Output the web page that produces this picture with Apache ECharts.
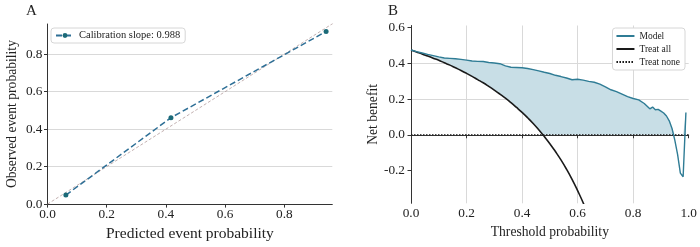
<!DOCTYPE html>
<html>
<head>
<meta charset="utf-8">
<script src="https://cdn.jsdelivr.net/npm/echarts@6/dist/echarts.min.js"></script>
<style>
  html, body { margin: 0; padding: 0; background: #fff; }
  #chart { width: 700px; height: 247px; }
</style>
</head>
<body>
<div id="chart"></div>
<script>
// Panel A - calibration plot
const calPredicted = [0.062, 0.417, 0.941];
const calObserved = [0.048, 0.461, 0.921];
const diagonal = [0, 1];

// Panel B - decision curve
const thresholds = [0.00, 0.02, 0.04, 0.06, 0.08, 0.10, 0.12, 0.14, 0.16, 0.18,
    0.20, 0.22, 0.24, 0.26, 0.28, 0.30, 0.32, 0.34, 0.36, 0.38,
    0.40, 0.42, 0.44, 0.46, 0.48, 0.50, 0.52, 0.54, 0.56, 0.58,
    0.60, 0.62, 0.64, 0.66, 0.68, 0.70, 0.72, 0.74, 0.76, 0.78,
    0.80, 0.82, 0.84, 0.86, 0.87, 0.88, 0.89, 0.90, 0.91, 0.92,
    0.93, 0.94, 0.95, 0.96, 0.97, 0.98, 0.99];
const modelBenefit = [0.475, 0.466, 0.458, 0.450, 0.443, 0.436, 0.430, 0.428, 0.426, 0.422,
    0.418, 0.413, 0.411, 0.410, 0.405, 0.402, 0.398, 0.386, 0.378, 0.377,
    0.375, 0.371, 0.365, 0.358, 0.350, 0.343, 0.333, 0.326, 0.318, 0.308,
    0.311, 0.306, 0.299, 0.294, 0.284, 0.268, 0.252, 0.242, 0.228, 0.214,
    0.203, 0.195, 0.175, 0.145, 0.155, 0.140, 0.142, 0.132, 0.122, 0.105,
    0.078, 0.035, -0.030, -0.110, -0.215, -0.235, 0.125];
const treatAllBenefit = [0.475, 0.464, 0.453, 0.441, 0.429, 0.417, 0.403, 0.390, 0.375, 0.360,
    0.344, 0.327, 0.309, 0.291, 0.271, 0.250, 0.228, 0.205, 0.180, 0.153,
    0.125, 0.095, 0.063, 0.028, -0.010, -0.050, -0.094, -0.141, -0.193, -0.250,
    -0.313, -0.381, -0.458];
const treatNoneX = [0, 1];
const treatNoneY = [0, 0];

const FONT = "Liberation Serif";
const TEXT = "#222";
const AXIS = "#333";
const GRID = "#d9d9d9";
const MODEL = "#2f7c95";

const zip = (xs, ys) => ys.map((y, i) => [xs[i], y]);
const fmt = (v) => v.toFixed(1);

// shaded area: between the model and the better of treat all / treat none
const fillBase = thresholds.map((t, i) => Math.max(treatAllBenefit[i] ?? -1, 0));
const fillUpper = thresholds.map((t, i) => Math.max(modelBenefit[i], fillBase[i]));

function renderFill(params, api) {
    const points = [];
    thresholds.forEach((t, i) => points.push(api.coord([t, fillUpper[i]])));
    for (let i = thresholds.length - 1; i >= 0; i--) {
        points.push(api.coord([thresholds[i], fillBase[i]]));
    }
    return {
        type: "polygon",
        shape: { points },
        style: { fill: "#c8dee6" },
        silent: true,
    };
}

const axisCommon = {
    axisLine: { lineStyle: { color: AXIS, width: 1 } },
    axisTick: { show: true, length: 3.5, lineStyle: { color: AXIS } },
    axisLabel: { fontFamily: FONT, fontSize: 13.3, color: TEXT, formatter: fmt },
    nameLocation: "middle",
};

const option = {
    animation: false,
    textStyle: { fontFamily: FONT },
    title: [
        { text: "A", left: 21, top: -1, textStyle: { fontFamily: FONT, fontSize: 15, fontWeight: "normal", color: TEXT } },
        { text: "B", left: 383, top: -1, textStyle: { fontFamily: FONT, fontSize: 15, fontWeight: "normal", color: TEXT } },
    ],
    grid: [
        { left: 47.5, top: 24, width: 284.8, height: 184.5 },
        { left: 411, top: 25.5, width: 278, height: 177.8 },
    ],
    legend: [
        {
            data: ["Calibration slope: 0.988"],
            left: 51, top: 28,
            itemWidth: 18, itemHeight: 6,
            padding: [2, 5, 2, 4],
            backgroundColor: "#fff",
            borderColor: "#d6d6d6", borderWidth: 1, borderRadius: 3,
            textStyle: { fontFamily: FONT, fontSize: 10.5, color: TEXT },
        },
        {
            data: ["Model", "Treat all", "Treat none"],
            orient: "vertical",
            right: 15, top: 28,
            itemWidth: 18, itemHeight: 6, itemGap: 3,
            padding: [3, 5, 3, 3],
            backgroundColor: "#fff",
            borderColor: "#d6d6d6", borderWidth: 1, borderRadius: 3,
            itemStyle: { opacity: 0 },
            textStyle: { fontFamily: FONT, fontSize: 9.5, color: TEXT },
        },
    ],
    xAxis: [
        {
            ...axisCommon, gridIndex: 0, type: "value", min: 0, max: 0.962, interval: 0.2,
            name: "Predicted event probability", nameGap: 20,
            nameTextStyle: { fontFamily: FONT, fontSize: 15.5, color: TEXT },
            axisLabel: { ...axisCommon.axisLabel, margin: 4, showMaxLabel: false },
            splitLine: { show: false },
        },
        {
            ...axisCommon, gridIndex: 1, type: "value", min: 0, max: 1, interval: 0.2,
            name: "Threshold probability", nameGap: 20,
            nameTextStyle: { fontFamily: FONT, fontSize: 13.6, color: TEXT },
            axisLabel: { ...axisCommon.axisLabel, margin: 4 },
            splitLine: { show: true, showMinLine: false, showMaxLine: false, lineStyle: { color: GRID } },
        },
    ],
    yAxis: [
        {
            ...axisCommon, gridIndex: 0, type: "value", min: 0, max: 0.961, interval: 0.2,
            name: "Observed event probability", nameGap: 28.5,
            nameTextStyle: { fontFamily: FONT, fontSize: 13.6, color: TEXT },
            axisLabel: { ...axisCommon.axisLabel, margin: 5, showMaxLabel: false },
            splitLine: { show: true, showMinLine: false, showMaxLine: false, lineStyle: { color: GRID } },
        },
        {
            ...axisCommon, gridIndex: 1, type: "value", min: -0.384, max: 0.612,
            name: "Net benefit", nameGap: 27,
            nameTextStyle: { fontFamily: FONT, fontSize: 13.6, color: TEXT },
            axisLabel: { ...axisCommon.axisLabel, margin: 6, customValues: [-0.2, 0, 0.2, 0.4, 0.6] },
            axisTick: { ...axisCommon.axisTick, customValues: [-0.2, 0, 0.2, 0.4, 0.6] },
            splitLine: { show: true, showMinLine: false, showMaxLine: false, lineStyle: { color: GRID } },
        },
    ],
    series: [
        {
            name: "diagonal", type: "line", xAxisIndex: 0, yAxisIndex: 0,
            data: zip(diagonal, diagonal), symbol: "none", silent: true,
            lineStyle: { color: "#b39c9c", width: 0.8, type: [3, 2] },
        },
        {
            name: "Calibration slope: 0.988", type: "line", xAxisIndex: 0, yAxisIndex: 0,
            data: zip(calPredicted, calObserved),
            symbol: "circle", symbolSize: 5,
            itemStyle: { color: "#1b6a78" },
            lineStyle: { color: "#2e6f96", width: 1.5, type: [6, 3] },
        },
        {
            name: "benefit area", type: "custom", xAxisIndex: 1, yAxisIndex: 1,
            data: [[0, 0]], renderItem: renderFill, silent: true, z: 1,
        },
        {
            name: "Treat none", type: "line", xAxisIndex: 1, yAxisIndex: 1,
            data: zip(treatNoneX, treatNoneY), symbol: "none",
            lineStyle: { color: "#111", width: 1.2, type: [1.5, 1.5] },
        },
        {
            name: "Treat all", type: "line", xAxisIndex: 1, yAxisIndex: 1,
            data: zip(thresholds, treatAllBenefit), symbol: "none", smooth: true,
            lineStyle: { color: "#1a1a1a", width: 1.6 },
        },
        {
            name: "Model", type: "line", xAxisIndex: 1, yAxisIndex: 1,
            data: zip(thresholds, modelBenefit), symbol: "none",
            lineStyle: { color: MODEL, width: 1.4 },
            itemStyle: { color: MODEL },
        },
    ],
};

const chart = echarts.init(document.getElementById("chart"));
chart.setOption(option);
</script>
</body>
</html>
